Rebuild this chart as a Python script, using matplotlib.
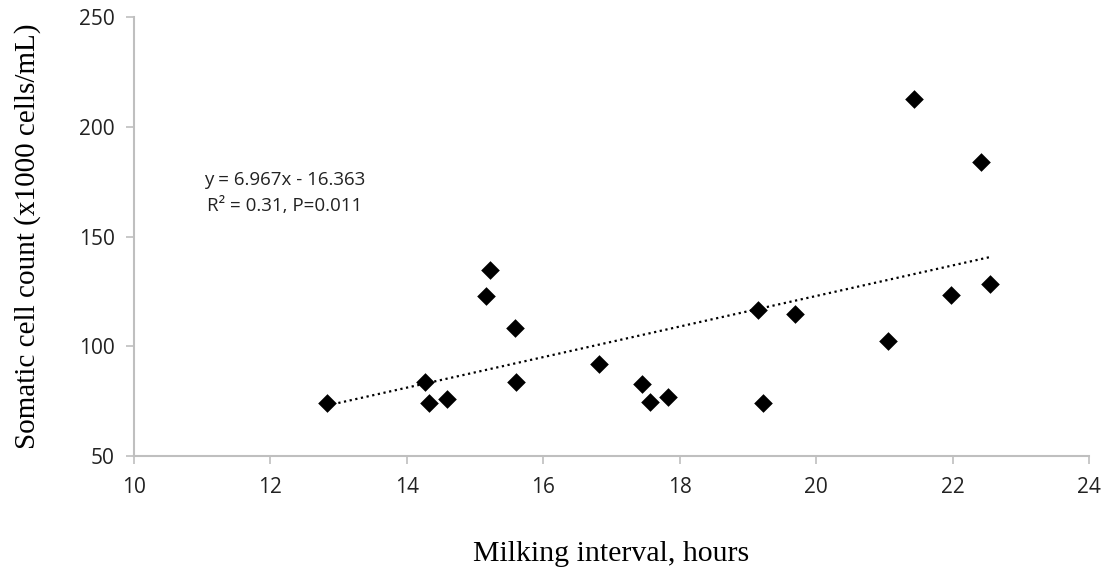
import matplotlib

matplotlib.use("Agg")
import matplotlib.pyplot as plt
import numpy as np

# milking interval (hours) and somatic cell count (x1000 cells/mL)
interval_h = [12.83, 14.27, 14.33, 14.59, 15.16, 15.22, 15.59, 15.60, 16.81, 17.45,
              17.56, 17.83, 19.15, 19.22, 19.69, 21.05, 21.43, 21.98, 22.41, 22.54]
scc = [74.3, 83.6, 74.3, 75.9, 123.1, 135.0, 108.5, 83.8, 92.0, 83.0,
       74.7, 76.9, 116.6, 74.1, 114.6, 102.6, 212.6, 123.4, 184.2, 128.4]

slope, intercept = 6.967, -16.363
eq_text = "y = 6.967x - 16.363\nR² = 0.31, P=0.011"

x_ticks = [10, 12, 14, 16, 18, 20, 22, 24]
y_ticks = [50, 100, 150, 200, 250]

fig = plt.figure(figsize=(11.07, 5.79), dpi=100)
ax = fig.add_axes([0.121, 0.2124, 0.863, 0.7577])

ax.scatter(interval_h, scc, marker="D", s=9.5 ** 2, color="black", zorder=3,
           linewidths=0)

xs = np.array([min(interval_h), max(interval_h)])
ax.plot(xs, slope * xs + intercept, color="black", linewidth=1.6,
        linestyle=(0, (1, 1.6)), zorder=2)

ax.text(12.21, 170, eq_text, ha="center", va="center", fontsize=13.5,
        family="Open Sans", linespacing=1.6, color="#222222")

ax.set_xlim(10, 24)
ax.set_ylim(50, 250)
ax.set_xticks(x_ticks)
ax.set_yticks(y_ticks)
ax.tick_params(axis="both", direction="out", length=6, width=1.2, color="#bfbfbf",
               labelsize=15, labelfontfamily="Open Sans", labelcolor="#222222")
ax.tick_params(axis="x", pad=9)
ax.tick_params(axis="y", pad=8)

for spine in ("top", "right"):
    ax.spines[spine].set_visible(False)
for spine in ("left", "bottom"):
    ax.spines[spine].set_color("#bfbfbf")
    ax.spines[spine].set_linewidth(1.5)

ax.set_xlabel("Milking interval, hours", family="Liberation Serif", fontsize=21.5,
              labelpad=31)
ax.set_ylabel("Somatic cell count (x1000 cells/mL)", family="Liberation Serif",
              fontsize=21, labelpad=27)

fig.savefig("out.png", dpi=100)
